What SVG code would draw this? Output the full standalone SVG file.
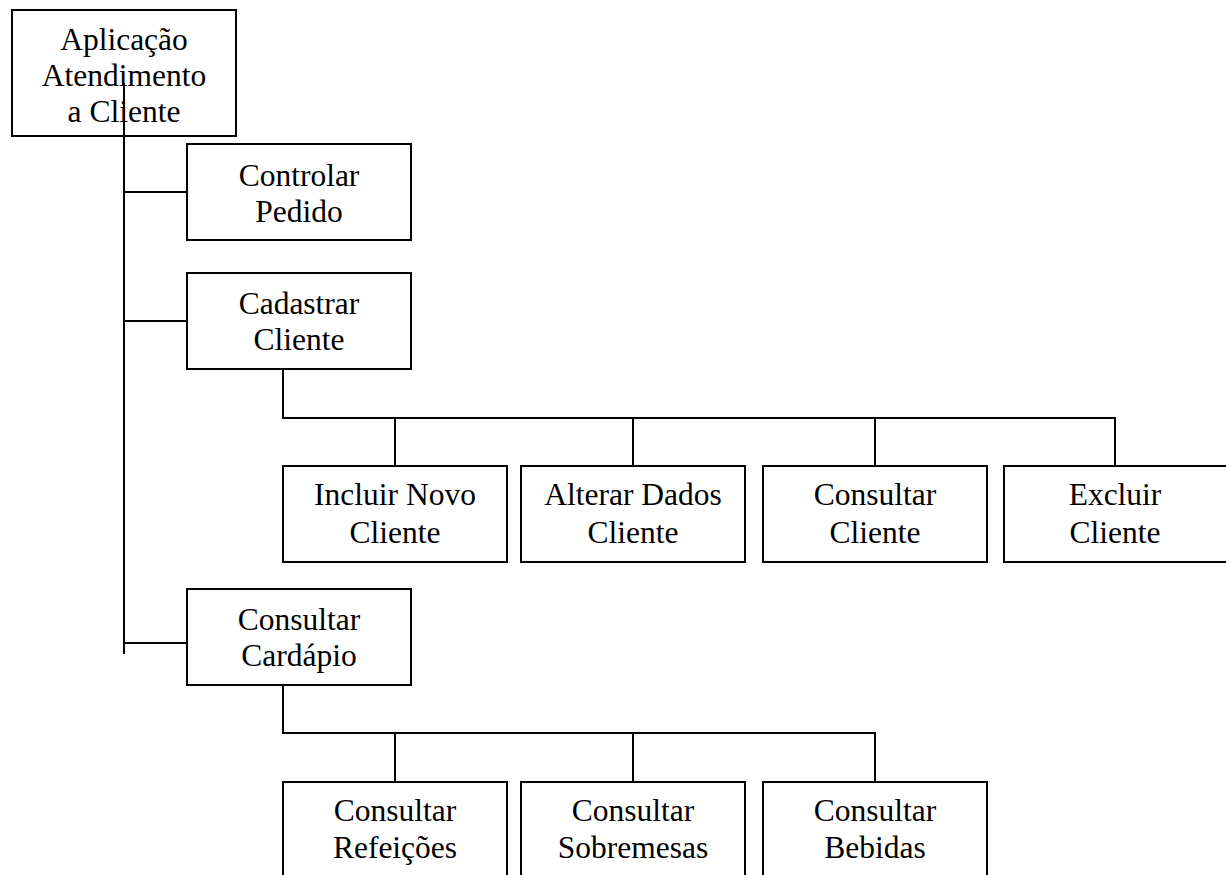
<svg xmlns="http://www.w3.org/2000/svg" width="1226" height="875" viewBox="0 0 1226 875">
<style>
  .box { fill: #ffffff; stroke: #000000; stroke-width: 2; }
  .lbl { font-family: "Liberation Serif", "Times New Roman", serif; font-size: 31.5px; fill: #000000; text-anchor: middle; }
  .con { fill: none; stroke: #000000; stroke-width: 2; }
</style>
<rect width="1226" height="875" fill="#ffffff"/>
<g id="node-root">
  <rect class="box" x="12" y="10" width="224" height="126"/>
  <text class="lbl" x="124" y="50">Aplicação</text>
  <text class="lbl" x="124" y="86">Atendimento</text>
  <text class="lbl" x="124" y="122">a Cliente</text>
</g>
<g id="node-controlar-pedido">
  <rect class="box" x="187" y="144" width="224" height="96"/>
  <text class="lbl" x="299" y="186">Controlar</text>
  <text class="lbl" x="299" y="222">Pedido</text>
</g>
<g id="node-cadastrar-cliente">
  <rect class="box" x="187" y="273" width="224" height="96"/>
  <text class="lbl" x="299" y="314">Cadastrar</text>
  <text class="lbl" x="299" y="350">Cliente</text>
</g>
<g id="node-incluir">
  <rect class="box" x="283" y="466" width="224" height="96"/>
  <text class="lbl" x="395" y="505">Incluir Novo</text>
  <text class="lbl" x="395" y="543">Cliente</text>
</g>
<g id="node-alterar">
  <rect class="box" x="521" y="466" width="224" height="96"/>
  <text class="lbl" x="633" y="505">Alterar Dados</text>
  <text class="lbl" x="633" y="543">Cliente</text>
</g>
<g id="node-consultar-cliente">
  <rect class="box" x="763" y="466" width="224" height="96"/>
  <text class="lbl" x="875" y="505">Consultar</text>
  <text class="lbl" x="875" y="543">Cliente</text>
</g>
<g id="node-excluir">
  <rect class="box" x="1004" y="466" width="224" height="96"/>
  <text class="lbl" x="1115" y="505">Excluir</text>
  <text class="lbl" x="1115" y="543">Cliente</text>
</g>
<g id="node-consultar-cardapio">
  <rect class="box" x="187" y="589" width="224" height="96"/>
  <text class="lbl" x="299" y="630">Consultar</text>
  <text class="lbl" x="299" y="666">Cardápio</text>
</g>
<g id="node-refeicoes">
  <rect class="box" x="283" y="782" width="224" height="96"/>
  <text class="lbl" x="395" y="821">Consultar</text>
  <text class="lbl" x="395" y="858">Refeições</text>
</g>
<g id="node-sobremesas">
  <rect class="box" x="521" y="782" width="224" height="96"/>
  <text class="lbl" x="633" y="821">Consultar</text>
  <text class="lbl" x="633" y="858">Sobremesas</text>
</g>
<g id="node-bebidas">
  <rect class="box" x="763" y="782" width="224" height="96"/>
  <text class="lbl" x="875" y="821">Consultar</text>
  <text class="lbl" x="875" y="858">Bebidas</text>
</g>
<g id="connectors">
  <line class="con" x1="124" y1="83" x2="124" y2="654"/>
  <line class="con" x1="124" y1="192" x2="187" y2="192"/>
  <line class="con" x1="124" y1="321" x2="187" y2="321"/>
  <line class="con" x1="124" y1="643" x2="187" y2="643"/>
  <polyline class="con" points="283,369 283,418 1115,418 1115,466"/>
  <line class="con" x1="395" y1="418" x2="395" y2="466"/>
  <line class="con" x1="633" y1="418" x2="633" y2="466"/>
  <line class="con" x1="875" y1="418" x2="875" y2="466"/>
  <polyline class="con" points="283,685 283,733 875,733 875,782"/>
  <line class="con" x1="395" y1="733" x2="395" y2="782"/>
  <line class="con" x1="633" y1="733" x2="633" y2="782"/>
</g>
</svg>
